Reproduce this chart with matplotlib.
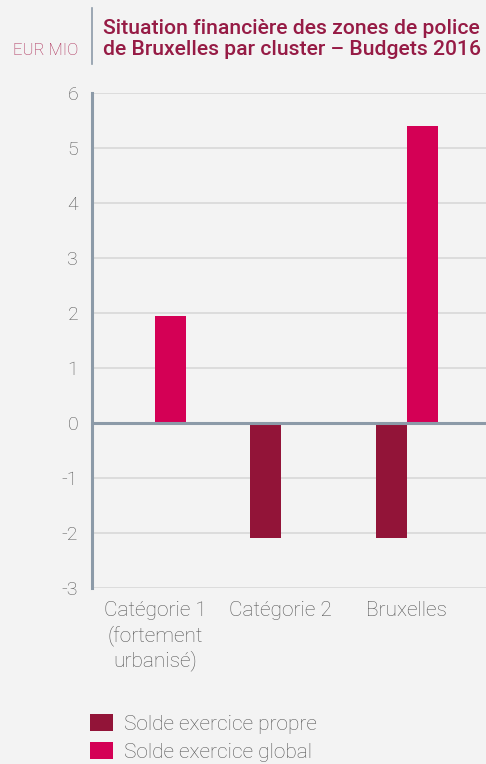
import matplotlib
matplotlib.use("Agg")
import matplotlib.pyplot as plt
from matplotlib.patches import Patch
from matplotlib.lines import Line2D
import numpy as np

categories = ["Catégorie 1\n(fortement\nurbanisé)", "Catégorie 2", "Bruxelles"]
solde_propre = [0.0, -2.09, -2.09]
solde_global = [1.95, 0.0, 5.40]
series_labels = ["Solde exercice propre", "Solde exercice global"]
y_ticks = [-3, -2, -1, 0, 1, 2, 3, 4, 5, 6]

BG = "#f3f3f3"
C_PROPRE = "#921438"
C_GLOBAL = "#d40055"
AXIS_C = "#8c9aa8"
GRID_C = "#dcdcdc"
TEXT_C = "#555555"
TITLE_C = "#961b45"

plt.rcParams["font.family"] = ["Roboto", "DejaVu Sans"]

fig = plt.figure(figsize=(4.86, 7.64), dpi=100, facecolor=BG)
ax = fig.add_axes([0.1893, 0.23, 1 - 0.1893, 0.6487], facecolor=BG)

x = np.arange(len(categories))
w = 0.246
ax.bar(x - w / 2, solde_propre, width=w, color=C_PROPRE, zorder=3)
ax.bar(x + w / 2, solde_global, width=w, color=C_GLOBAL, zorder=3)

ax.set_xlim(-0.5, 2.63)
ax.set_ylim(-3, 6)
ax.set_yticks(y_ticks)
ax.set_yticklabels([str(t) for t in y_ticks])
ax.yaxis.grid(True, color=GRID_C, linewidth=1.4, zorder=0)
ax.set_axisbelow(True)
ax.axhline(0, color=AXIS_C, linewidth=2.2, zorder=4)

for s in ["top", "right", "bottom"]:
    ax.spines[s].set_visible(False)
ax.spines["left"].set_color(AXIS_C)
ax.spines["left"].set_linewidth(2.2)

ax.tick_params(axis="y", length=0, pad=10, labelsize=14, labelcolor=TEXT_C)
ax.tick_params(axis="x", length=0, pad=9, labelsize=15, labelcolor=TEXT_C)
ax.set_xticks(x)
ax.set_xticklabels(categories, linespacing=1.3)
for lbl in ax.get_yticklabels() + ax.get_xticklabels():
    lbl.set_fontweight("light")

# Header: unit label, separator and title
fig.text(78 / 486, 1 - 55 / 764, "EUR MIO", ha="right", va="baseline",
         fontsize=12, color="#a8234f", fontweight="light")
fig.add_artist(Line2D([92 / 486, 92 / 486], [1 - 8 / 764, 1 - 64 / 764],
                      color=AXIS_C, linewidth=1.2))
fig.text(103 / 486, 1 - 55 / 764,
         "Situation financière des zones de police\nde Bruxelles par cluster – Budgets 2016",
         ha="left", va="baseline", fontsize=15.2, color=TITLE_C,
         fontweight="medium", linespacing=1.15)

handles = [Patch(facecolor=C_PROPRE, edgecolor="none"),
           Patch(facecolor=C_GLOBAL, edgecolor="none")]
leg = fig.legend(handles, series_labels, loc="upper left",
                 bbox_to_anchor=(86 / 486, 1 - 710 / 764), frameon=False,
                 fontsize=15, handlelength=1.1, handleheight=0.9,
                 handletextpad=0.5, labelspacing=0.38, borderaxespad=0,
                 borderpad=0.2)
for t in leg.get_texts():
    t.set_color(TEXT_C)
    t.set_fontweight("light")

fig.savefig("out.png", dpi=100, facecolor=BG)
